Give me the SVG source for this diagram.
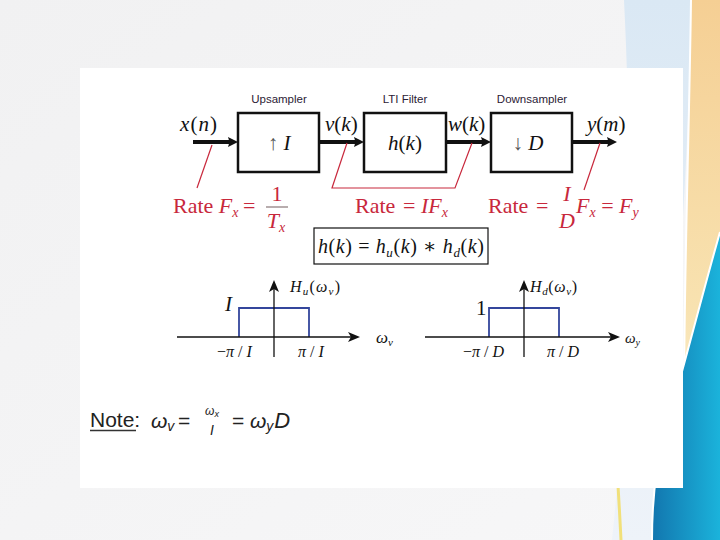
<svg xmlns="http://www.w3.org/2000/svg" width="720" height="540" viewBox="0 0 720 540">
<defs>
<linearGradient id="bg" x1="0" y1="0" x2="1" y2="1"><stop offset="0" stop-color="#f1f1f2"/><stop offset="1" stop-color="#f7f7f8"/></linearGradient>
<linearGradient id="lb" x1="0" y1="0" x2="0" y2="1"><stop offset="0" stop-color="#dae8f4"/><stop offset="1" stop-color="#eef3f9"/></linearGradient>
<linearGradient id="or" x1="0" y1="0" x2="0" y2="1"><stop offset="0" stop-color="#f5cf94"/><stop offset="0.7" stop-color="#f8e2b0"/><stop offset="1" stop-color="#fbf0d2"/></linearGradient>
<linearGradient id="bl" gradientUnits="userSpaceOnUse" x1="650" y1="0" x2="720" y2="0"><stop offset="0" stop-color="#1274ad"/><stop offset="1" stop-color="#1bb3db"/></linearGradient>
<marker id="big" viewBox="0 0 10 10" refX="4" refY="5" markerWidth="10" markerHeight="11" markerUnits="userSpaceOnUse" orient="auto"><path d="M0,0 L10,5 L0,10 L1.5,5 z" fill="#111"/></marker>
<marker id="ax" viewBox="0 0 12 10" refX="3" refY="5" markerWidth="12" markerHeight="10" markerUnits="userSpaceOnUse" orient="auto"><path d="M0,0 L12,5 L0,10 L3,5 z" fill="#111"/></marker>
<style>
.box{fill:#fff;stroke:#111;stroke-width:2.5}
.lbl{font-family:"Liberation Sans","Noto Sans",sans-serif;font-size:11.5px;fill:#2b2135}
.m{font-family:"Liberation Serif","DejaVu Serif",serif;fill:#111}
.i{font-style:italic}
.red{fill:#c8283c}
.rl{fill:none;stroke:#c8283c;stroke-width:1.2}
.flow{stroke:#111;stroke-width:4;fill:none;marker-end:url(#big)}
.axis{stroke:#111;stroke-width:1.3;fill:none;marker-end:url(#ax)}
.rect{fill:none;stroke:#34469c;stroke-width:1.8}
.sans{font-family:"Liberation Sans","Noto Sans",sans-serif;fill:#222}
</style>
</defs>
<!-- background -->
<rect width="720" height="540" fill="url(#bg)"/>
<path d="M624,0 L692,0 C688,150 680,320 655,540 L612,540 C632,350 632,160 624,0 Z" fill="url(#lb)"/>
<path d="M691,0 L720,0 L720,440 L684,440 C683,300 689,150 691,0 Z" fill="url(#or)"/>
<path d="M691,0 C689,150 683,300 684,440" fill="none" stroke="#fff" stroke-width="2"/>
<path d="M720,232 C702,295 682,375 664,435 C655,470 652,505 652,540 L720,540 Z" fill="url(#bl)"/>
<path d="M720,232 C702,295 682,375 664,435 C655,470 652,505 652,540" fill="none" stroke="#fff" stroke-width="2"/>
<path d="M617,470 C619,500 620,520 621,540" fill="none" stroke="#f1e07a" stroke-width="3"/>
<rect x="80" y="68" width="603" height="420" fill="#fff"/>

<!-- connectors -->
<g id="connectors">
<line class="flow" x1="193" y1="142" x2="232" y2="142"/>
<line class="flow" x1="319" y1="142" x2="358" y2="142"/>
<line class="flow" x1="446" y1="142" x2="485" y2="142"/>
<line class="flow" x1="572" y1="142" x2="611" y2="142"/>
<path class="rl" d="M212,145 L197,188"/>
<path class="rl" d="M347,143 L332,188 L455,188 L472,143"/>
<path class="rl" d="M600,143 L584,190"/>
</g>

<!-- signal labels -->
<g id="signals" class="m" font-size="21">
<text x="180" y="131" textLength="37"><tspan class="i">x</tspan>(<tspan class="i">n</tspan>)</text>
<text x="325" y="131"><tspan class="i">v</tspan>(<tspan class="i">k</tspan>)</text>
<text x="448" y="131"><tspan class="i">w</tspan>(<tspan class="i">k</tspan>)</text>
<text x="587" y="131"><tspan class="i">y</tspan>(<tspan class="i">m</tspan>)</text>
</g>

<g id="upsampler">
<rect class="box" x="238" y="113" width="81" height="59"/>
<text class="lbl" x="279" y="103" text-anchor="middle">Upsampler</text>
<text class="m" x="279" y="150" font-size="21" text-anchor="middle"><tspan fill="#555">↑</tspan> <tspan class="i">I</tspan></text>
</g>
<g id="lti">
<rect class="box" x="364" y="113" width="82" height="59"/>
<text class="lbl" x="405" y="103" text-anchor="middle">LTI Filter</text>
<text class="m" x="405" y="150" font-size="21" text-anchor="middle"><tspan class="i">h</tspan>(<tspan class="i">k</tspan>)</text>
</g>
<g id="downsampler">
<rect class="box" x="491" y="113" width="81" height="59"/>
<text class="lbl" x="532" y="103" text-anchor="middle">Downsampler</text>
<text class="m" x="528" y="150" font-size="21" text-anchor="middle"><tspan fill="#555">↓</tspan> <tspan class="i">D</tspan></text>
</g>

<!-- rates -->
<g id="rate1" class="m red" font-size="22">
<text x="173" y="213">Rate <tspan class="i">F</tspan><tspan font-size="14" dy="4" class="i">x</tspan></text>
<text x="243" y="213">=</text>
<text x="277" y="201" text-anchor="middle">1</text>
<line x1="266" y1="207" x2="288" y2="207" stroke="#9a8a8c" stroke-width="1.4"/>
<text x="276" y="228" text-anchor="middle"><tspan class="i">T</tspan><tspan font-size="14" dy="4" class="i">x</tspan></text>
</g>
<g id="rate2" class="m red" font-size="22">
<text x="355" y="213">Rate</text>
<text x="403" y="213">= <tspan class="i">IF</tspan><tspan font-size="14" dy="4" class="i">x</tspan></text>
</g>
<g id="rate3" class="m red" font-size="22">
<text x="488" y="213">Rate</text>
<text x="536" y="213">=</text>
<text x="567" y="201" text-anchor="middle" class="i">I</text>
<text x="567" y="228" text-anchor="middle" class="i">D</text>
<text x="576" y="213"><tspan class="i">F</tspan><tspan font-size="14" dy="4" class="i">x</tspan><tspan dy="-4"> = </tspan><tspan class="i">F</tspan><tspan font-size="14" dy="4" class="i">y</tspan></text>
</g>

<g id="hk">
<rect x="314" y="228" width="174" height="36" fill="#fff" stroke="#111" stroke-width="1.2"/>
<text class="m" x="318" y="253" font-size="20" textLength="166" lengthAdjust="spacing"><tspan class="i">h</tspan>(<tspan class="i">k</tspan>) = <tspan class="i">h</tspan><tspan font-size="13" dy="4" class="i">u</tspan><tspan dy="-4">(</tspan><tspan class="i">k</tspan>) ∗ <tspan class="i">h</tspan><tspan font-size="13" dy="4" class="i">d</tspan><tspan dy="-4">(</tspan><tspan class="i">k</tspan>)</text>
</g>

<!-- plot left -->
<g id="plot-hu">
<path class="rect" d="M239,337 V308 H309 V337"/>
<line class="axis" x1="177" y1="337" x2="351" y2="337"/>
<line class="axis" x1="274" y1="357" x2="274" y2="289"/>
<text class="m i" x="225" y="311" font-size="21">I</text>
<text class="m" x="290" y="292" font-size="16" textLength="50"><tspan class="i">H</tspan><tspan font-size="11" dy="3" class="i">u</tspan><tspan dy="-3">(</tspan><tspan class="i">ω</tspan><tspan font-size="11" dy="3" class="i">v</tspan><tspan dy="-3">)</tspan></text>
<text class="m" x="376" y="343" font-size="17"><tspan class="i">ω</tspan><tspan font-size="11" dy="3" class="i">v</tspan></text>
<text class="m" x="217" y="357" font-size="16">−<tspan class="i">π</tspan> / <tspan class="i">I</tspan></text>
<text class="m" x="298" y="357" font-size="16"><tspan class="i">π</tspan> / <tspan class="i">I</tspan></text>
</g>

<!-- plot right -->
<g id="plot-hd">
<path class="rect" d="M489,337 V308 H559 V337"/>
<line class="axis" x1="425" y1="337" x2="611" y2="337"/>
<line class="axis" x1="524" y1="357" x2="524" y2="289"/>
<text class="m" x="476" y="315" font-size="21">1</text>
<text class="m" x="530" y="292" font-size="16" textLength="47"><tspan class="i">H</tspan><tspan font-size="11" dy="3" class="i">d</tspan><tspan dy="-3">(</tspan><tspan class="i">ω</tspan><tspan font-size="11" dy="3" class="i">v</tspan><tspan dy="-3">)</tspan></text>
<text class="m" x="625" y="343" font-size="15"><tspan class="i">ω</tspan><tspan font-size="10" dy="3" class="i">y</tspan></text>
<text class="m" x="463" y="357" font-size="16">−<tspan class="i">π</tspan> / <tspan class="i">D</tspan></text>
<text class="m" x="547" y="357" font-size="16"><tspan class="i">π</tspan> / <tspan class="i">D</tspan></text>
</g>

<!-- note -->
<g id="note">
<text class="sans" x="90" y="427" font-size="21">Note:</text>
<line x1="90" y1="430.5" x2="136" y2="430.5" stroke="#333" stroke-width="1.4"/>
<text class="sans i" x="151" y="428" font-size="21">ω<tspan font-size="14" dy="3">v</tspan></text>
<text class="sans" x="178" y="428" font-size="21">=</text>
<text class="sans i" x="212" y="415" font-size="12" text-anchor="middle">ω<tspan font-size="9" dy="2">x</tspan></text>
<text class="sans i" x="212" y="435" font-size="14" text-anchor="middle">I</text>
<text class="sans" x="232" y="428" font-size="21">=</text>
<text class="sans i" x="250" y="428" font-size="21">ω<tspan font-size="14" dy="3">y</tspan><tspan dy="-3" font-size="22" dx="1">D</tspan></text>
</g>
</svg>
